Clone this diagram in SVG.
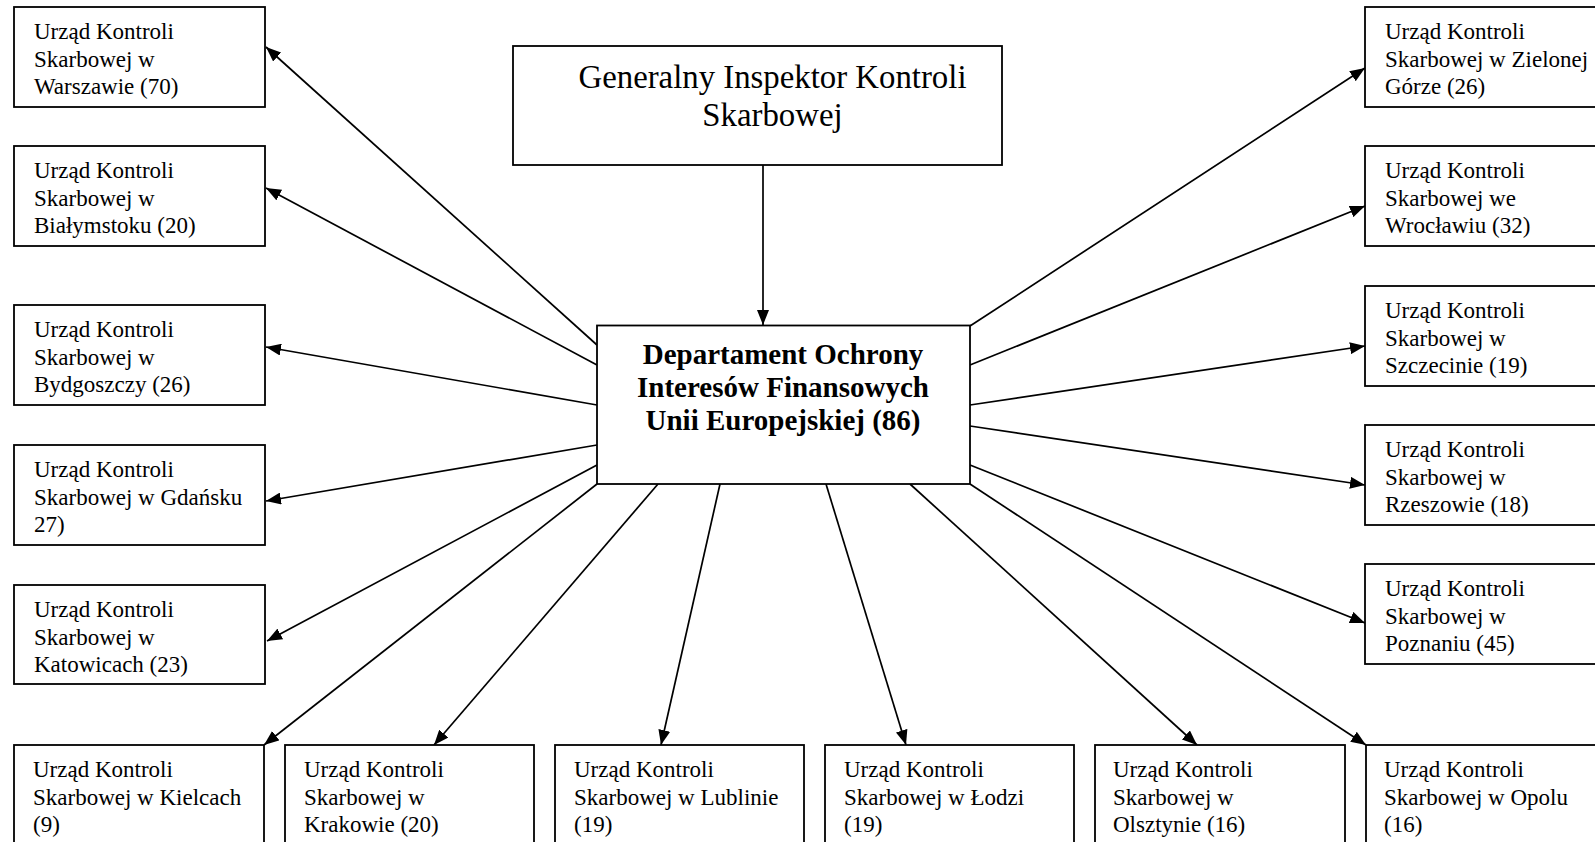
<svg xmlns="http://www.w3.org/2000/svg" width="1595" height="842" viewBox="0 0 1595 842">
<style>
.box{fill:#fff;stroke:#000;stroke-width:1.8}
.t{font-family:"Liberation Serif","Times New Roman",serif;font-size:23px;fill:#000}
.big{font-family:"Liberation Serif","Times New Roman",serif;font-size:32.8px;fill:#000;text-anchor:middle}
.bold{font-family:"Liberation Serif","Times New Roman",serif;font-size:29px;font-weight:bold;fill:#000;text-anchor:middle}
.c{stroke:#000;stroke-width:1.7;fill:none;marker-end:url(#ah)}
</style>
<defs>
<marker id="ah" markerUnits="userSpaceOnUse" markerWidth="15" markerHeight="12" refX="15" refY="6" orient="auto">
<path d="M0,0 L15,6 L0,12 z" fill="#000"/>
</marker>
</defs>
<rect width="1595" height="842" fill="#fff"/>
<g id="connectors">
<line class="c" x1="763" y1="165" x2="763" y2="325"/>
<line class="c" x1="597" y1="345" x2="266" y2="47"/>
<line class="c" x1="597" y1="365" x2="266" y2="188"/>
<line class="c" x1="597" y1="405" x2="266" y2="347"/>
<line class="c" x1="597" y1="445" x2="266" y2="501"/>
<line class="c" x1="597" y1="465" x2="267" y2="641"/>
<line class="c" x1="597" y1="484" x2="264" y2="745"/>
<line class="c" x1="658" y1="484" x2="434" y2="745"/>
<line class="c" x1="720" y1="484" x2="661" y2="745"/>
<line class="c" x1="826" y1="484" x2="906" y2="745"/>
<line class="c" x1="910" y1="484" x2="1197" y2="745"/>
<line class="c" x1="970" y1="484" x2="1366" y2="745"/>
<line class="c" x1="970" y1="326" x2="1365" y2="68"/>
<line class="c" x1="970" y1="365" x2="1365" y2="206"/>
<line class="c" x1="970" y1="405" x2="1365" y2="346"/>
<line class="c" x1="970" y1="426" x2="1365" y2="485"/>
<line class="c" x1="970" y1="465" x2="1365" y2="623"/>
</g>
<g id="gik">
<rect class="box" x="513" y="46" width="489" height="119"/>
<text class="big" x="772.5" y="88">Generalny Inspektor Kontroli</text>
<text class="big" x="772.5" y="126">Skarbowej</text>
</g>
<g id="doif">
<rect class="box" x="597" y="325.5" width="373" height="158.5"/>
<text class="bold" x="783" y="364">Departament Ochrony</text>
<text class="bold" x="783" y="397">Interesów Finansowych</text>
<text class="bold" x="783" y="430">Unii Europejskiej (86)</text>
</g>
<g id="warszawa">
<rect class="box" x="14" y="7" width="251" height="100"/>
<text class="t" x="34" y="39">Urząd Kontroli</text>
<text class="t" x="34" y="66.5">Skarbowej w</text>
<text class="t" x="34" y="94">Warszawie (70)</text>
</g>
<g id="bialystok">
<rect class="box" x="14" y="146" width="251" height="100"/>
<text class="t" x="34" y="178">Urząd Kontroli</text>
<text class="t" x="34" y="205.5">Skarbowej w</text>
<text class="t" x="34" y="233">Białymstoku (20)</text>
</g>
<g id="bydgoszcz">
<rect class="box" x="14" y="305" width="251" height="100"/>
<text class="t" x="34" y="337">Urząd Kontroli</text>
<text class="t" x="34" y="364.5">Skarbowej w</text>
<text class="t" x="34" y="392">Bydgoszczy (26)</text>
</g>
<g id="gdansk">
<rect class="box" x="14" y="445" width="251" height="100"/>
<text class="t" x="34" y="477">Urząd Kontroli</text>
<text class="t" x="34" y="504.5">Skarbowej w Gdańsku</text>
<text class="t" x="34" y="532">27)</text>
</g>
<g id="katowice">
<rect class="box" x="14" y="585" width="251" height="99"/>
<text class="t" x="34" y="617">Urząd Kontroli</text>
<text class="t" x="34" y="644.5">Skarbowej w</text>
<text class="t" x="34" y="672">Katowicach (23)</text>
</g>
<g id="zielona-gora">
<rect class="box" x="1365" y="7" width="260" height="100"/>
<text class="t" x="1385" y="39">Urząd Kontroli</text>
<text class="t" x="1385" y="66.5">Skarbowej w Zielonej</text>
<text class="t" x="1385" y="94">Górze (26)</text>
</g>
<g id="wroclaw">
<rect class="box" x="1365" y="146" width="260" height="100"/>
<text class="t" x="1385" y="178">Urząd Kontroli</text>
<text class="t" x="1385" y="205.5">Skarbowej we</text>
<text class="t" x="1385" y="233">Wrocławiu (32)</text>
</g>
<g id="szczecin">
<rect class="box" x="1365" y="286" width="260" height="100"/>
<text class="t" x="1385" y="318">Urząd Kontroli</text>
<text class="t" x="1385" y="345.5">Skarbowej w</text>
<text class="t" x="1385" y="373">Szczecinie (19)</text>
</g>
<g id="rzeszow">
<rect class="box" x="1365" y="425" width="260" height="100"/>
<text class="t" x="1385" y="457">Urząd Kontroli</text>
<text class="t" x="1385" y="484.5">Skarbowej w</text>
<text class="t" x="1385" y="512">Rzeszowie (18)</text>
</g>
<g id="poznan">
<rect class="box" x="1365" y="564" width="260" height="100"/>
<text class="t" x="1385" y="596">Urząd Kontroli</text>
<text class="t" x="1385" y="623.5">Skarbowej w</text>
<text class="t" x="1385" y="651">Poznaniu (45)</text>
</g>
<g id="kielce">
<rect class="box" x="14" y="745" width="250" height="110"/>
<text class="t" x="33" y="777">Urząd Kontroli</text>
<text class="t" x="33" y="804.5">Skarbowej w Kielcach</text>
<text class="t" x="33" y="832">(9)</text>
</g>
<g id="krakow">
<rect class="box" x="285" y="745" width="249" height="110"/>
<text class="t" x="304" y="777">Urząd Kontroli</text>
<text class="t" x="304" y="804.5">Skarbowej w</text>
<text class="t" x="304" y="832">Krakowie (20)</text>
</g>
<g id="lublin">
<rect class="box" x="555" y="745" width="249" height="110"/>
<text class="t" x="574" y="777">Urząd Kontroli</text>
<text class="t" x="574" y="804.5">Skarbowej w Lublinie</text>
<text class="t" x="574" y="832">(19)</text>
</g>
<g id="lodz">
<rect class="box" x="825" y="745" width="249" height="110"/>
<text class="t" x="844" y="777">Urząd Kontroli</text>
<text class="t" x="844" y="804.5">Skarbowej w Łodzi</text>
<text class="t" x="844" y="832">(19)</text>
</g>
<g id="olsztyn">
<rect class="box" x="1095" y="745" width="250" height="110"/>
<text class="t" x="1113" y="777">Urząd Kontroli</text>
<text class="t" x="1113" y="804.5">Skarbowej w</text>
<text class="t" x="1113" y="832">Olsztynie (16)</text>
</g>
<g id="opole">
<rect class="box" x="1366" y="745" width="260" height="110"/>
<text class="t" x="1384" y="777">Urząd Kontroli</text>
<text class="t" x="1384" y="804.5">Skarbowej w Opolu</text>
<text class="t" x="1384" y="832">(16)</text>
</g>
</svg>
